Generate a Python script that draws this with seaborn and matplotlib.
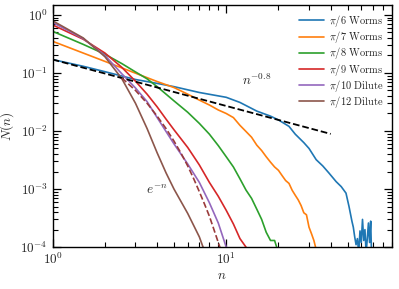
import numpy as np
import pandas as pd
import matplotlib
matplotlib.use("Agg")
import matplotlib.pyplot as plt
import seaborn as sns
from matplotlib.ticker import FuncFormatter, NullFormatter, LogLocator

# ---------------- data ----------------
labels = [r"$\pi/6\ \mathrm{Worms}$", r"$\pi/7\ \mathrm{Worms}$", r"$\pi/8\ \mathrm{Worms}$",
          r"$\pi/9\ \mathrm{Worms}$", r"$\pi/10\ \mathrm{Dilute}$", r"$\pi/12\ \mathrm{Dilute}$"]

n_pi6 = [1, 1.5, 2, 3, 4, 5, 7, 10, 12, 15, 18, 20, 23, 25, 28, 30, 33, 36, 39, 43, 46, 49,
         51, 53, 54, 55, 56, 57, 58, 59, 60, 61, 62, 63, 64, 65, 66, 67, 68, 69]
N_pi6 = [0.17, 0.13, 0.105, 0.077, 0.066, 0.058, 0.046, 0.038, 0.031, 0.022, 0.018, 0.0155,
         0.012, 0.0088, 0.0063, 0.005, 0.0032, 0.0025, 0.0019, 0.00134, 0.0011, 0.00085,
         0.0005, 0.00028, 0.00022, 0.00015, 0.00011, 0.00014, 0.00008, 0.00019, 0.00012,
         0.0003, 0.00013, 0.0002, 0.00008, 0.00014, 0.00026, 0.00012, 0.00028, 0.00005]

n_pi7 = list(range(1, 34))
N_pi7 = [0.35, 0.158, 0.099, 0.071, 0.056, 0.043, 0.034, 0.028, 0.023, 0.020, 0.017, 0.0125,
         0.0098, 0.0078, 0.0057, 0.0046, 0.0036, 0.0029, 0.0024, 0.0021, 0.0017, 0.0014,
         0.00125, 0.00095, 0.00078, 0.00065, 0.00052, 0.00039, 0.00036, 0.00022, 0.00017,
         0.00013, 0.00009]

n_pi8 = [1, 1.5, 2, 2.5, 3, 3.5, 4, 5, 6, 7, 8, 9, 10, 11, 12, 13, 14, 15, 16, 17, 18, 19, 20]
N_pi8 = [0.52, 0.31, 0.21, 0.145, 0.104, 0.079, 0.058, 0.033, 0.021, 0.0135, 0.0088, 0.0056,
         0.0036, 0.0024, 0.0015, 0.00096, 0.00069, 0.00045, 0.0003, 0.00018, 0.00013, 0.00013,
         0.00008]

n_pi9 = [1, 1.5, 2, 2.5, 3, 3.5, 4, 4.5, 5, 6, 7, 8, 9, 10, 11, 12, 13, 14]
N_pi9 = [0.67, 0.38, 0.22, 0.125, 0.072, 0.043, 0.026, 0.016, 0.0105, 0.0052, 0.0026, 0.0013,
         0.00075, 0.00043, 0.00025, 0.00014, 0.0001, 0.00006]

n_pi10 = [1, 1.5, 2, 2.5, 3, 3.5, 4, 4.5, 5, 6, 7, 8, 9, 10, 11]
N_pi10 = [0.74, 0.39, 0.2, 0.097, 0.055, 0.032, 0.017, 0.0098, 0.006, 0.0027, 0.0013, 0.00058,
          0.00026, 0.0001, 0.00004]

n_pi12 = [1, 1.5, 2, 2.5, 3, 3.5, 4, 4.5, 5, 6, 7, 8]
N_pi12 = [0.79, 0.4, 0.19, 0.08, 0.03, 0.011, 0.0042, 0.0019, 0.001, 0.00038, 0.00015, 0.00005]

# guide lines
n_pow = [1, 40]
N_pow = [0.17, 0.0089]
n_exp = [2.5, 3, 3.5, 4, 4.5, 5, 5.5, 6, 6.5, 7, 7.5, 8, 8.5, 9, 9.5, 10]
N_exp = [0.082, 0.05, 0.030, 0.018, 0.011, 0.0067, 0.0041, 0.0025, 0.0015, 0.0009,
         0.00055, 0.00034, 0.0002, 0.00012, 0.000075, 0.000045]

xs = [n_pi6, n_pi7, n_pi8, n_pi9, n_pi10, n_pi12]
ys = [N_pi6, N_pi7, N_pi8, N_pi9, N_pi10, N_pi12]
df = pd.concat([pd.DataFrame({"n": x, "N": y, "series": lab}) for x, y, lab in zip(xs, ys, labels)],
               ignore_index=True)

# ---------------- style ----------------
sns.set_style("ticks")
plt.rcParams["mathtext.fontset"] = "cm"
plt.rcParams["font.family"] = ["DejaVu Serif"]

fig = plt.figure(figsize=(3.99, 2.89), dpi=100)
ax = fig.add_axes([0.132, 0.145, 0.850, 0.839])
ax.set_xscale("log")
ax.set_yscale("log")

palette = sns.color_palette("tab10", 6)
sns.lineplot(data=df, x="n", y="N", hue="series", hue_order=labels, palette=palette,
             estimator=None, sort=False, lw=1.2, ax=ax)
sns.lineplot(x=n_pow, y=N_pow, color="k", linestyle="--", lw=1.3, ax=ax, legend=False)
sns.lineplot(x=n_exp, y=N_exp, color="#9a3a3a", linestyle="--", lw=1.2, ax=ax, legend=False)

ax.text(14.9, 0.076, r"$n^{-0.8}$", fontsize=9.5, ha="center", va="center")
ax.text(3.98, 0.00096, r"$e^{-n}$", fontsize=9.5, ha="center", va="center")

ax.set_xlim(1, 90)
ax.set_ylim(1e-4, 1.5)
ax.set_xlabel(r"$n$", fontsize=9.5, labelpad=1)
ax.set_ylabel(r"$N(n)$", fontsize=9.5, labelpad=3)

fmt = FuncFormatter(lambda v, p: r"$10^{%d}$" % int(round(np.log10(v))))
ax.xaxis.set_major_formatter(fmt)
ax.yaxis.set_major_formatter(fmt)
ax.xaxis.set_minor_formatter(NullFormatter())
ax.yaxis.set_minor_formatter(NullFormatter())
ax.yaxis.set_minor_locator(LogLocator(base=10, subs=np.arange(2, 10), numticks=20))
ax.xaxis.set_minor_locator(LogLocator(base=10, subs=np.arange(2, 10), numticks=20))
ax.tick_params(which="both", direction="in", top=True, right=True, labelsize=9.5, color="k")
ax.tick_params(which="major", length=6, width=0.9)
ax.tick_params(which="minor", length=3.5, width=0.8)
for s in ax.spines.values():
    s.set_linewidth(1.0)
    s.set_color("k")

h, l = ax.get_legend_handles_labels()
ax.legend(h[:6], l[:6], loc="upper right", frameon=False, fontsize=7.5,
          labelspacing=0.02, handlelength=2.4, handletextpad=0.5, borderaxespad=0.4,
          borderpad=0.4)

fig.savefig("out.png", dpi=100)
